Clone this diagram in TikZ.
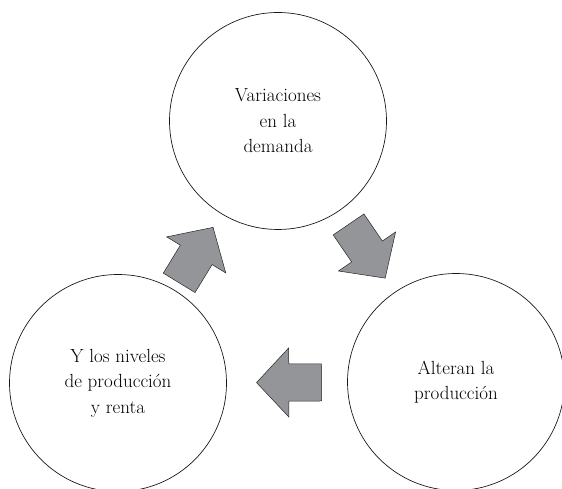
\documentclass[tikz,border=0pt]{standalone}
\usepackage{tikz}
\usetikzlibrary{positioning,shapes.arrows}
\definecolor{flowgray}{RGB}{147,149,152}

\begin{document}
\begin{tikzpicture}[x=1pt,y=1pt]
 	\tikzstyle{main}=[circle, minimum size = 217pt, draw =black!90, line width=0.7pt, align=center, font=\fontsize{19}{25.5}\selectfont, on grid]
 	\tikzstyle{flow}=[single arrow, draw=black!85, fill=flowgray, line width=0.5pt, minimum height=65pt, inner xsep=0pt, inner ysep=18.35pt, single arrow head extend=16pt, single arrow tip angle=94, sloped, allow upside down, anchor=tip]
 	\path[use as bounding box, clip] (0,0) rectangle (562,489);
 	\node[main] (demanda) at (278,368) {Variaciones\\en la\\demanda};
 	\node[main] (renta) [below left=262pt and 160pt of demanda] {Y los niveles\\de producci\'on\\y renta};
 	\node[main] (produccion) [below right=261pt and 178pt of demanda] {Alteran la\\producci\'on};
 	\path (renta) -- node[flow, pos=0.827] (flowa) {} (demanda)
 	(demanda) -- node[flow, pos=0.832] (flowb) {} (produccion)
 	(produccion) -- node[flow, pos=0.756] (flowc) {} (renta);
\end{tikzpicture}
\end{document}
